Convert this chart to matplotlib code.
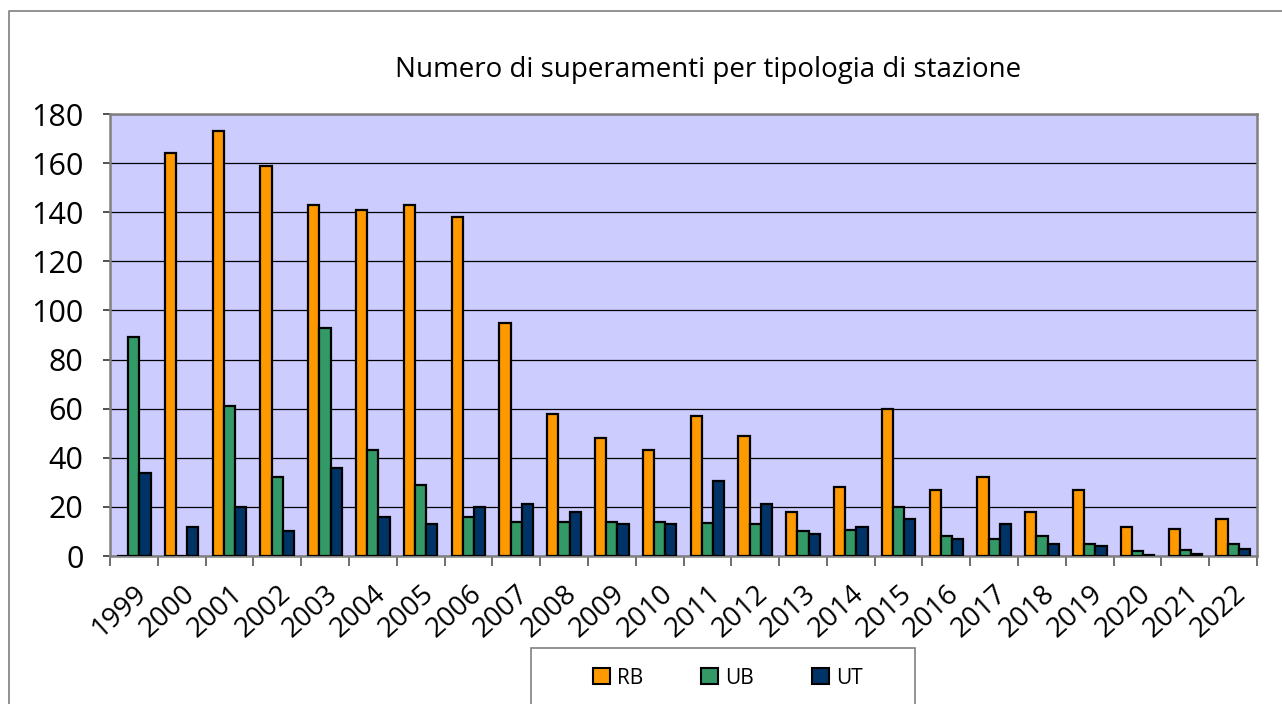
import matplotlib
matplotlib.use("Agg")
import matplotlib.pyplot as plt
import numpy as np
from matplotlib.patches import Patch, Rectangle
from matplotlib.lines import Line2D

years = ["1999", "2000", "2001", "2002", "2003", "2004", "2005", "2006", "2007", "2008",
         "2009", "2010", "2011", "2012", "2013", "2014", "2015", "2016", "2017", "2018",
         "2019", "2020", "2021", "2022"]
rb = [0, 164, 173, 159, 143, 141, 143, 138, 95, 58, 48, 43, 57, 49, 18, 28, 60, 27, 32, 18, 27, 12, 11, 15]
ub = [89, 0, 61, 32, 93, 43, 29, 16, 14, 14, 14, 14, 13.5, 13, 10, 10.5, 20, 8, 7, 8, 5, 2, 2.5, 5]
ut = [34, 12, 20, 10, 36, 16, 13, 20, 21, 18, 13, 13, 30.5, 21, 9, 12, 15, 7, 13, 5, 4, 0.5, 1, 3]
series_names = ["RB", "UB", "UT"]
colors = ["#FF9900", "#339966", "#003366"]
title = "Numero di superamenti per tipologia di stazione"

plt.rcParams['font.family'] = ['Open Sans', 'DejaVu Sans']

W, H = 1282, 704
fig = plt.figure(figsize=(W / 100, H / 100), dpi=100)
fig.patch.set_facecolor("white")

L, R, T, B = 110, 1257, 114, 556
ax = fig.add_axes([L / W, (H - B) / H, (R - L) / W, (B - T) / H])
ax.set_facecolor("#CCCCFF")

x = np.arange(len(years))
bw = 0.234
for i, (vals, c) in enumerate(zip([rb, ub, ut], colors)):
    ax.bar(x + (i - 1) * bw, vals, width=bw, color=c, edgecolor="black",
           linewidth=1.6, zorder=3)

ax.set_xlim(-0.5, len(years) - 0.5)
ax.set_ylim(0, 180)
ax.set_yticks(np.arange(0, 181, 20))
ax.yaxis.grid(True, color="black", linewidth=0.9, zorder=1)
ax.set_axisbelow(True)

ax.set_xticks(x)
ax.set_xticklabels(years, rotation=42, ha="right", va="top", rotation_mode="anchor",
                   fontsize=20)
ax.tick_params(axis="x", which="major", length=0, pad=17)
ax.set_xticks(np.arange(-0.5, len(years) + 0.5, 1), minor=True)
ax.tick_params(axis="x", which="minor", length=7, width=1.2, color="#555555", direction="out")
ax.tick_params(axis="y", length=5, width=1.2, color="#333333", labelsize=22, pad=14)
for lab in ax.get_yticklabels():
    lab.set_horizontalalignment("right")

for s in ax.spines.values():
    s.set_color("#808080")
    s.set_linewidth(1.8)

fig.text(708 / W, 1 - 70 / H, title, ha="center", va="center", fontsize=20)

# outer frame
fig.add_artist(Line2D([9 / W, 9 / W, 1.0], [0, 1 - 11 / H, 1 - 11 / H],
                      transform=fig.transFigure, color="#7f7f7f", linewidth=1.2))

# legend box
fig.add_artist(Rectangle((531 / W, -0.05), (915 - 531) / W, (H - 648) / H + 0.05,
                         transform=fig.transFigure, facecolor="white",
                         edgecolor="#808080", linewidth=1.2))
handles = [Patch(facecolor=c, edgecolor="black", linewidth=1.5) for c in colors]
leg = fig.legend(handles, series_names, loc="center", bbox_to_anchor=(728 / W, 1 - 678 / H),
                 ncol=3, frameon=False, fontsize=15, handlelength=0.8, handleheight=0.8,
                 handletextpad=0.35, columnspacing=2.8)

fig.savefig("out.png", dpi=100)
